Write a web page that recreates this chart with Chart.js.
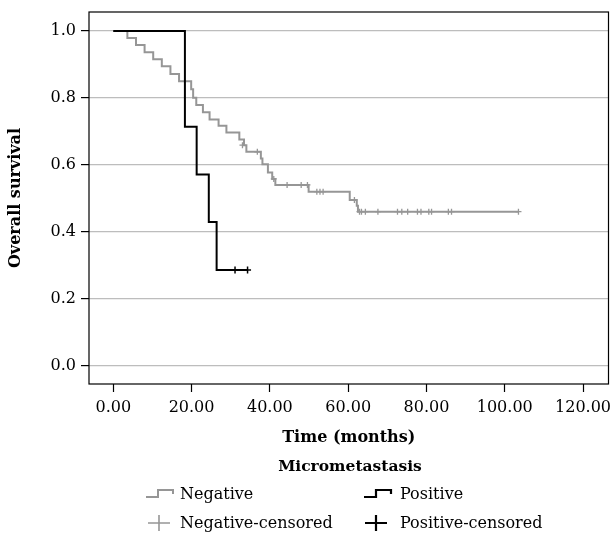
<!DOCTYPE html>
<html><head><meta charset="utf-8">
<script src="https://cdn.jsdelivr.net/npm/chart.js@4"></script>
<style>
html,body{margin:0;padding:0;background:#fff;}
#wrap{position:relative;width:614px;height:537px;overflow:hidden;}
#c{position:absolute;left:0;top:0;}
.lg{position:absolute;font-family:'DejaVu Serif',serif;font-size:16px;color:#000;white-space:nowrap;line-height:18px;}
.ttl{font-weight:bold;font-size:15.5px;}
svg.ic{position:absolute;}
</style>
</head><body>
<div id="wrap">
<canvas id="c" width="614" height="537"></canvas>
<div class="lg ttl" id="lgTitle" style="left:0;width:700px;top:457px;text-align:center;"></div>
<div id="lgItems"></div>
</div>
<script>
// ---- data ----
const xTicks = [0, 20, 40, 60, 80, 100, 120];
const yTicks = [0, 0.2, 0.4, 0.6, 0.8, 1.0];

const negTimes = [0, 3.6, 5.8, 8.0, 10.2, 12.4, 14.6, 16.8, 19.9, 20.4, 21.2, 22.9, 24.6, 26.9, 28.9, 32.2, 33.4, 34.0, 37.7, 38.1, 39.5, 40.6, 41.4, 49.9, 60.4, 62.2, 62.5, 103.5];
const negSurv  = [1.0, 0.979, 0.958, 0.937, 0.916, 0.895, 0.872, 0.850, 0.826, 0.801, 0.779, 0.757, 0.736, 0.717, 0.697, 0.676, 0.659, 0.639, 0.619, 0.602, 0.577, 0.558, 0.540, 0.520, 0.495, 0.478, 0.460, 0.460];
const negCensTimes = [33.0, 36.8, 41.0, 44.4, 48.0, 49.6, 52.0, 52.8, 53.6, 61.6, 62.9, 63.4, 64.4, 67.6, 72.6, 73.7, 75.2, 77.7, 78.6, 80.6, 81.3, 85.6, 86.4, 103.5];
const negCensSurv  = [0.659, 0.639, 0.558, 0.540, 0.540, 0.540, 0.520, 0.520, 0.520, 0.495, 0.460, 0.460, 0.460, 0.460, 0.460, 0.460, 0.460, 0.460, 0.460, 0.460, 0.460, 0.460, 0.460, 0.460];

const posTimes = [0, 18.3, 21.3, 24.4, 26.4, 34.3];
const posSurv  = [1.0, 0.714, 0.571, 0.429, 0.286, 0.286];
const posCensTimes = [31.1, 34.3];
const posCensSurv  = [0.286, 0.286];

const legendTitle = 'Micrometastasis';
const legendLabels = ['Negative', 'Positive', 'Negative-censored', 'Positive-censored'];
const xTitle = 'Time (months)';
const yTitle = 'Overall survival';

// ---- build ----
const pts = (xs, ys) => xs.map((x, i) => ({x: x, y: ys[i]}));
const GRAY = '#969696';
const FONT = "'DejaVu Serif', serif";

const framePlugin = {
  id: 'frame',
  afterDraw(chart) {
    const a = chart.chartArea, ctx = chart.ctx;
    ctx.save();
    ctx.strokeStyle = '#000';
    ctx.lineWidth = 1.2;
    ctx.strokeRect(a.left, a.top, a.right - a.left, a.bottom - a.top);
    ctx.restore();
  }
};

new Chart(document.getElementById('c'), {
  type: 'scatter',
  data: {
    datasets: [
      {label: legendLabels[0], data: pts(negTimes, negSurv), showLine: true, stepped: true, order: 3,
       borderColor: GRAY, borderWidth: 2, pointRadius: 0, fill: false},
      {label: legendLabels[1], data: pts(posTimes, posSurv), showLine: true, stepped: true, order: 1,
       borderColor: '#000', borderWidth: 2, pointRadius: 0, fill: false},
      {label: legendLabels[2], data: pts(negCensTimes, negCensSurv), showLine: false, order: 2,
       pointStyle: 'cross', pointRadius: 3, borderColor: GRAY, borderWidth: 1.3, backgroundColor: GRAY},
      {label: legendLabels[3], data: pts(posCensTimes, posCensSurv), showLine: false, order: 0,
       pointStyle: 'cross', pointRadius: 3.5, borderColor: '#000', borderWidth: 1.5, backgroundColor: '#000'}
    ]
  },
  options: {
    responsive: false,
    animation: false,
    devicePixelRatio: 1,
    layout: {padding: {left: 0, right: 2, top: 12, bottom: 83}},
    plugins: {legend: {display: false}, tooltip: {enabled: false}},
    scales: {
      x: {
        type: 'linear', min: -6.2, max: 126.5,
        afterBuildTicks: s => { s.ticks = xTicks.map(v => ({value: v})); },
        afterFit: s => { s.height = 70; s.paddingLeft = 0; s.paddingRight = 0; },
        ticks: {callback: v => Number(v).toFixed(2), font: {family: FONT, size: 16}, color: '#000', padding: 6, maxRotation: 0, autoSkip: false},
        grid: {drawOnChartArea: false, drawTicks: true, tickLength: 8, tickColor: '#000', tickWidth: 1.2},
        border: {display: false},
        title: {display: true, text: xTitle, font: {family: FONT, size: 16, weight: 'bold'}, color: '#000', padding: {top: 0, bottom: 7}}
      },
      y: {
        type: 'linear', min: -0.055, max: 1.057,
        afterBuildTicks: s => { s.ticks = yTicks.map(v => ({value: v})); },
        afterFit: s => { s.width = 89; s.paddingTop = 0; s.paddingBottom = 0; },
        ticks: {callback: v => Number(v).toFixed(1), font: {family: FONT, size: 16}, color: '#000', padding: 5, autoSkip: false},
        grid: {drawOnChartArea: true, color: '#bdbdbd', lineWidth: 1.2, drawTicks: true, tickLength: 8, tickColor: '#000', tickWidth: 1.2},
        border: {display: false},
        title: {display: true, text: yTitle, font: {family: FONT, size: 16, weight: 'bold'}, color: '#000', padding: {top: 6, bottom: 0}}
      }
    }
  },
  plugins: [framePlugin]
});

// ---- HTML legend ----
document.getElementById('lgTitle').textContent = legendTitle;
const items = document.getElementById('lgItems');
const legendPos = [
  {x: 180, y: 485, icon: 'step', color: GRAY, w: 2, ix: 145},
  {x: 400, y: 485, icon: 'step', color: '#000', w: 2.2, ix: 363},
  {x: 180, y: 514, icon: 'cross', color: GRAY, w: 1.6, ix: 146},
  {x: 400, y: 514, icon: 'cross', color: '#000', w: 2.2, ix: 363}
];
legendPos.forEach((p, i) => {
  const t = document.createElement('div');
  t.className = 'lg';
  t.style.left = p.x + 'px';
  t.style.top = p.y + 'px';
  t.textContent = legendLabels[i];
  items.appendChild(t);
  const ns = 'http://www.w3.org/2000/svg';
  const s = document.createElementNS(ns, 'svg');
  s.setAttribute('class', 'ic');
  s.setAttribute('width', '30'); s.setAttribute('height', '20');
  s.style.left = p.ix + 'px'; s.style.top = (p.y - 1) + 'px';
  const path = document.createElementNS(ns, 'path');
  if (p.icon === 'step') {
    path.setAttribute('d', 'M1 13 H13 V6 H28 V10');
  } else {
    path.setAttribute('d', 'M2 10 H24 M13 2 V18');
  }
  path.setAttribute('fill', 'none');
  path.setAttribute('stroke', p.color);
  path.setAttribute('stroke-width', p.w);
  s.appendChild(path);
  items.appendChild(s);
});
</script>
</body></html>
